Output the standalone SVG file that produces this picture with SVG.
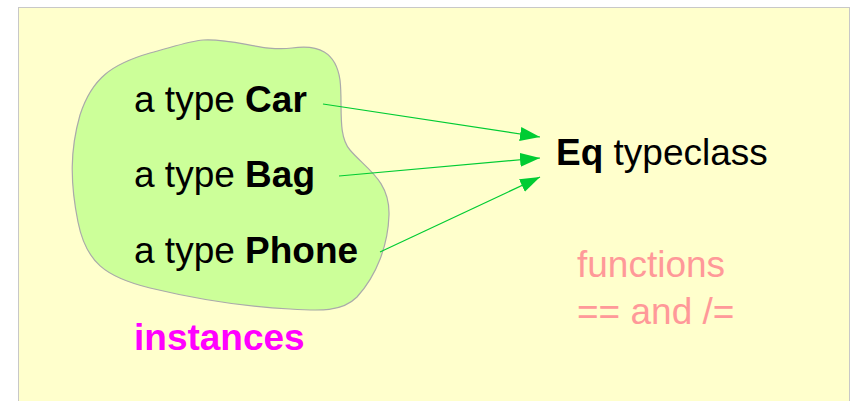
<svg xmlns="http://www.w3.org/2000/svg" width="854" height="401" viewBox="0 0 854 401">
<defs>
<style>
.t{font-family:"Liberation Sans",Arial,sans-serif;font-size:37px;fill:#000}
.b{font-weight:bold}
.pink{fill:#ff9999}
.mag{fill:#ff00ff;font-weight:bold}
.conn{stroke:#00cc33;stroke-width:1.2;fill:none}
</style>
<marker id="ah" markerUnits="userSpaceOnUse" markerWidth="22" markerHeight="16" refX="20" refY="7" orient="auto">
<path d="M0,0 L20,7 L0,14 Z" fill="#00cc33"/>
</marker>
</defs>
<rect x="18.5" y="7.5" width="831" height="400" fill="#ffffcc" stroke="#c8c8c8" stroke-width="1"/>
<g id="instances-blob">
<path d="M203,40 C235,38 262,52 292,48 C318,44 336,52 340,80 C343,105 337,135 350,150 C365,168 390,180 389,215 C388,245 377,275 357,297 C342,312 320,311 290,309 C250,307 200,300 150,288 C105,277 86,262 78,222 C70,182 70,150 80,115 C92,78 112,64 150,53 C176,46 190,41 203,40 Z" fill="#ccff99" stroke="#aaaaaa" stroke-width="1.2"/>
</g>
<g id="node-car"><text class="t" x="134" y="112">a type <tspan class="b">Car</tspan></text></g>
<g id="node-bag"><text class="t" x="134" y="187">a type <tspan class="b">Bag</tspan></text></g>
<g id="node-phone"><text class="t" x="134" y="263">a type <tspan class="b">Phone</tspan></text></g>
<g id="node-instances"><text class="t mag" x="134" y="350">instances</text></g>
<g id="node-eq"><text class="t" x="556" y="165"><tspan class="b">Eq</tspan> typeclass</text></g>
<g id="node-functions">
<text class="t pink" x="577" y="277">functions</text>
<text class="t pink" x="577" y="324">== and /=</text>
</g>
<g id="connectors">
<line class="conn" x1="323" y1="104" x2="540" y2="137" marker-end="url(#ah)"/>
<line class="conn" x1="339" y1="176" x2="540" y2="158" marker-end="url(#ah)"/>
<line class="conn" x1="380" y1="252" x2="540" y2="177" marker-end="url(#ah)"/>
</g>
</svg>
